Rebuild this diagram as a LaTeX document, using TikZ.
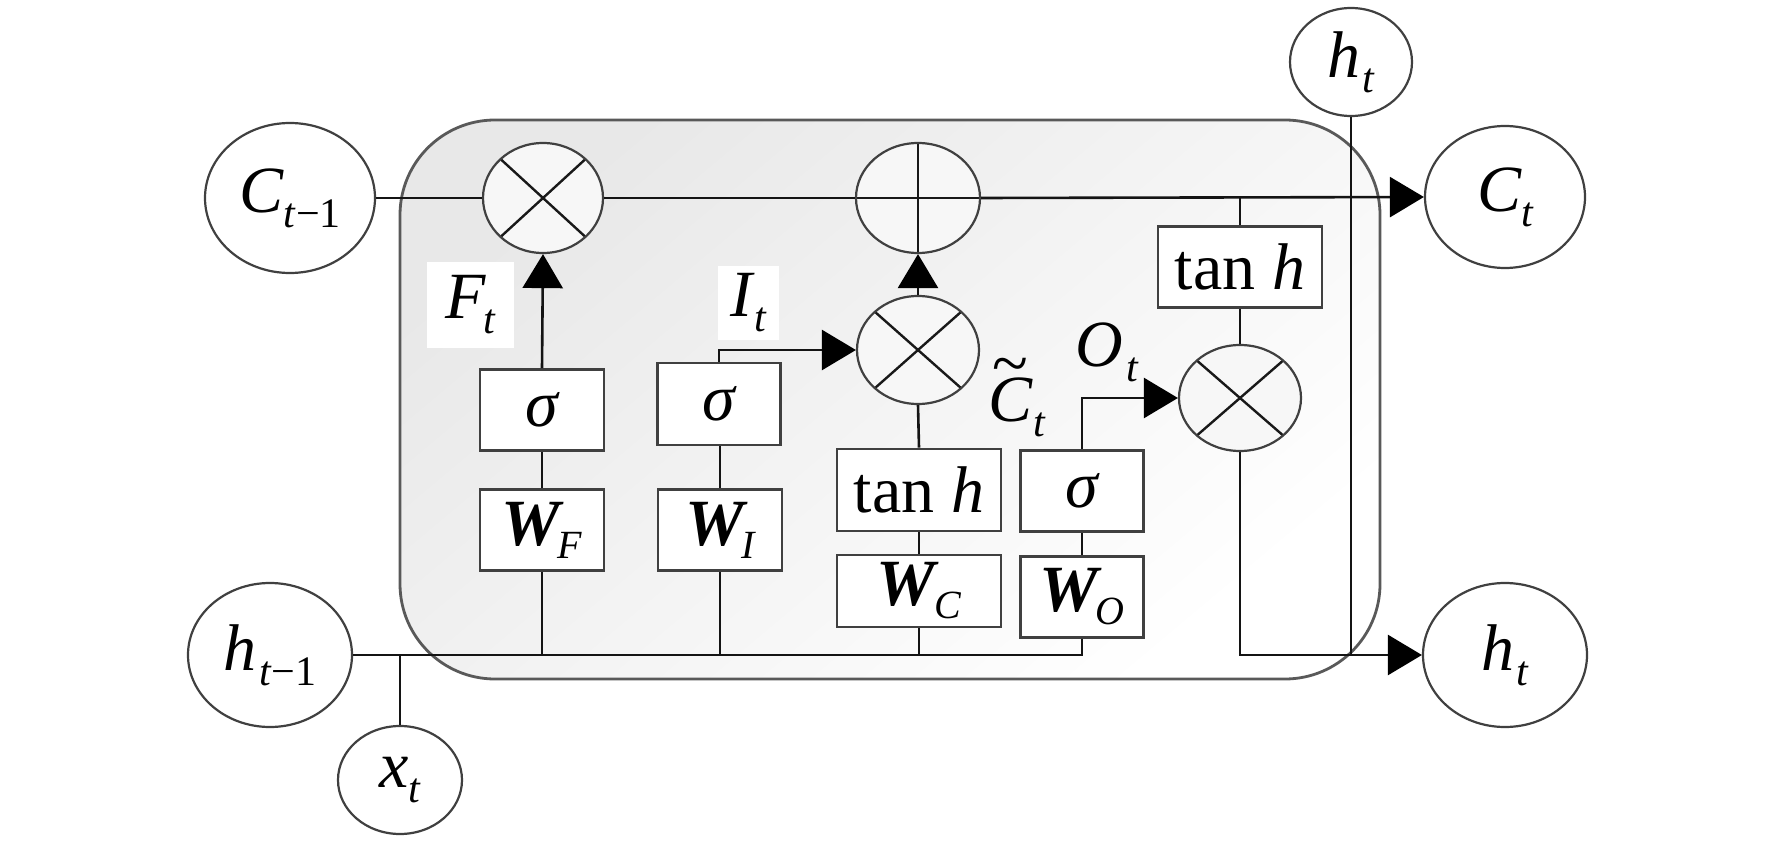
\documentclass[tikz,border=0pt]{standalone}
\usepackage{fontspec}
\setmainfont{Liberation Serif}
\usetikzlibrary{shapes.geometric,arrows.meta}
\newcommand\Sb[1]{\raisebox{-15pt}{\fontsize{42pt}{44pt}\selectfont\mdseries\itshape #1}}
\newcommand\Sw[1]{\raisebox{-13pt}{\fontsize{40pt}{40pt}\selectfont\mdseries\itshape #1}}
\newcommand\Wb{{\bfseries\itshape W}}
\newcommand\mi[1]{{\itshape #1}}
\tikzset{
  conn/.style={line width=2.6pt, draw=black!92},
  arr/.style={conn, -{Triangle[length=34pt,width=40pt,fill=black,color=black]}},
  term/.style={ellipse, draw=black!75, line width=2.2pt, fill=white, inner sep=0pt},
  gate/.style={ellipse, draw=black!75, line width=2.2pt, fill=black!3, inner sep=0pt},
  mul/.style={gate, path picture={\draw[line width=2.4pt,black!90]
      (path picture bounding box.north west)--(path picture bounding box.south east)
      (path picture bounding box.north east)--(path picture bounding box.south west);}},
  add/.style={gate, path picture={\draw[line width=2.4pt,black!90]
      (path picture bounding box.north)--(path picture bounding box.south)
      (path picture bounding box.west)--(path picture bounding box.east);}},
  blk/.style={rectangle, draw=black!75, line width=2.6pt, fill=white, inner sep=0pt},
  lbl/.style={inner sep=0pt},
}
\begin{document}
\begin{tikzpicture}[x=1pt,y=-1pt,font=\fontsize{66pt}{72pt}\selectfont]
\useasboundingbox (0,0) rectangle (1772,842);
% container
\draw[draw=black!65, line width=2.8pt, rounded corners=95pt,
  top color=black!9, bottom color=white, shading angle=40]
  (400,120) rectangle (1380,679);

% terminals
\node[term, minimum width=170pt, minimum height=150pt] (cprev) at (290,198)
  {\mi{C}\Sb{t\kern1pt\upshape −1}};
\node[term, minimum width=160pt, minimum height=142pt] (ct) at (1505,197)
  {\mi{C}\Sb{t}};
\node[term, minimum width=164pt, minimum height=144pt] (hprev) at (270,655)
  {\mi{h}\kern3pt\Sb{t\kern1pt\upshape −1}};
\node[term, minimum width=164pt, minimum height=144pt] (ht) at (1505,655)
  {\mi{h}\kern2pt\Sb{t}};
\node[term, minimum width=122pt, minimum height=108pt] (httop) at (1351,62)
  {\mi{h}\kern2pt\Sb{t}};
\node[term, minimum width=124pt, minimum height=108pt] (xt) at (400,780)
  {\mi{x}\Sb{t}};

% gates
\node[mul, minimum width=120pt, minimum height=110pt] (m1) at (543,198) {};
\node[add, minimum width=124pt, minimum height=110pt] (plus) at (918,198) {};
\node[mul, minimum width=122pt, minimum height=108pt] (m2) at (918,350) {};
\node[mul, minimum width=122pt, minimum height=106pt] (m4) at (1240,398) {};

% blocks
\node[blk, minimum width=124pt, minimum height=81pt] (sigF) at (542,410) {\mi{σ}};
\node[blk, minimum width=124pt, minimum height=81pt] (WF) at (542,530) {\Wb\kern-3pt\Sw{F}};
\node[blk, minimum width=123pt, minimum height=82pt] (sigI) at (719,404) {\mi{σ}};
\node[blk, minimum width=124pt, minimum height=81pt] (WI) at (720,530) {\Wb\kern-3pt\Sw{I}};
\node[blk, minimum width=164pt, minimum height=82pt] (tanhC) at (919,490) {tan \mi{h}};
\node[blk, minimum width=164pt, minimum height=72pt] (WC) at (919,591) {\Wb\kern-1pt\Sw{C}};
\node[blk, minimum width=123pt, minimum height=81pt] (sigO) at (1082,491) {\mi{σ}};
\node[blk, minimum width=123pt, minimum height=81pt] (WO) at (1082,597) {\Wb\kern-3pt\Sw{O}};
\node[blk, minimum width=164pt, minimum height=81pt] (tanhR) at (1240,267) {tan \mi{h}};

% labels
\node[lbl, fill=white, minimum width=87pt, minimum height=86pt] (Ft) at (470,305) {\mi{F}\kern-2pt\Sb{t}};
\node[lbl, fill=white, minimum width=61pt, minimum height=73pt] (It) at (748,303) {\mi{I}\kern2pt\Sb{t}};
\node[lbl] (Ot) at (1107,352) {\mi{O}\kern3pt\Sb{t}};
\node[lbl] (Ctil) at (1017,398)
  {\makebox[0pt][l]{\hspace{4pt}\raisebox{36pt}{\textasciitilde}}\mi{C}\kern1pt\Sb{t}};

% connectors
\draw[conn] (cprev.east) -- (m1.west);
\draw[conn] (m1.east) -- (plus.west);
\draw[arr] (plus.east) -- (ct.west);
\draw[conn] (hprev.east) -- (hprev.east -| WO.south) -- (WO.south);
\draw[conn] (WF.south) -- (WF.south |- hprev.east);
\draw[conn] (WI.south) -- (WI.south |- hprev.east);
\draw[conn] (WC.south) -- (WC.south |- hprev.east);
\draw[conn] (xt.north) -- (xt.north |- hprev.east);
\draw[conn] (WF.north) -- (sigF.south);
\draw[arr] (sigF.north) -- (m1.south);
\draw[conn] (WI.north) -- (WI.north |- sigI.south);
\draw[arr] (sigI.north) |- (m2.west);
\draw[conn] (WC.north) -- (tanhC.south);
\draw[conn] (tanhC.north) -- (m2.south);
\draw[arr] (m2.north) -- (plus.south);
\draw[conn] (WO.north) -- (sigO.south);
\draw[arr] (sigO.north) |- (m4.west);
\draw[conn] (tanhR.north) -- (tanhR.north |- plus.east);
\draw[conn] (tanhR.south) -- (m4.north);
\draw[arr] (m4.south) |- (ht.west);
\draw[conn] (httop.south) -- (httop.south |- ht.west);
\end{tikzpicture}
\end{document}
